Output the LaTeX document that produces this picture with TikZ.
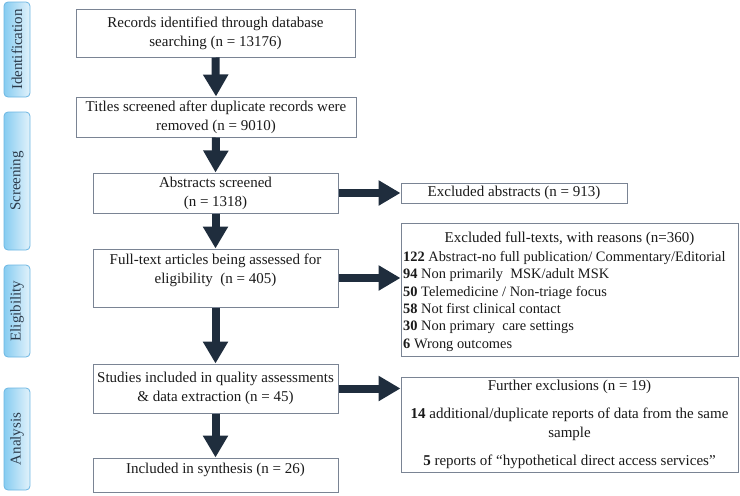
\documentclass[tikz,border=0pt]{standalone}
\usepackage{fontspec}
\setmainfont{Liberation Serif}
\usetikzlibrary{arrows.meta,shadows}
\definecolor{arr}{HTML}{1F2D3D}
\definecolor{bord}{HTML}{7A8494}
\definecolor{sidebord}{HTML}{6CB6E2}
\definecolor{sidelight}{HTML}{E2F2FB}
\definecolor{sidedark}{HTML}{86CCF1}
\definecolor{sidetext}{HTML}{2B3A4A}
\definecolor{txtcol}{HTML}{1A1A1A}
\tikzset{
  box/.style={draw=bord, line width=1pt, fill=white,
    drop shadow={shadow xshift=1.2pt, shadow yshift=-1.2pt, opacity=0.3, fill=black!60},
    inner sep=0pt, align=center, text=txtcol, font=\fontsize{15}{19}\selectfont},
  txt/.style={inner sep=0pt, align=center, text=txtcol, font=\fontsize{15}{19}\selectfont},
  listtxt/.style={inner sep=0pt, align=left, text=txtcol, font=\fontsize{14.4}{17.4}\selectfont},
  side/.style={draw=sidebord, line width=0.8pt, rounded corners=4pt, rotate=90,
    left color=sidedark, right color=sidelight, minimum height=26pt, inner sep=0pt,
    text=sidetext, font=\fontsize{15}{18}\selectfont},
  bigarrow/.style={draw=arr, line width=8pt, line cap=butt,
    -{Triangle[width=24pt,length=22pt]}},
}
\begin{document}
\begin{tikzpicture}[x=1pt,y=-1pt]
\useasboundingbox (0,0) rectangle (740,496);
% side labels
\node[side, minimum width=95pt] (sid) at (17,49.5) {Identification};
\node[side, minimum width=138pt] (ssc) at (17,181) {Screening};
\node[side, minimum width=92pt] (sel) at (17,311) {Eligibility};
\node[side, minimum width=102pt] (san) at (17,439) {Analysis};
% main column
\node[box, minimum width=279pt, minimum height=48pt] (b1) at (215.5,33)
  {Records identified through database\\searching (n = 13176)};
\node[box, minimum width=280pt, minimum height=40pt] (b2) at (216,117)
  {Titles screened after duplicate records were\\removed (n = 9010)};
\node[box, minimum width=245pt, minimum height=40pt] (b3) at (215.5,193)
  {Abstracts screened\\(n = 1318)};
\node[box, minimum width=245pt, minimum height=58pt] (b4) at (215.5,278) {};
\node[txt] (t4) at ([yshift=8pt]b4.center)
  {Full-text articles being assessed for\\eligibility~ (n = 405)};
\node[box, minimum width=245pt, minimum height=49pt] (b5) at (215.5,388.5)
  {Studies included in quality assessments\\\& data extraction (n = 45)};
\node[box, minimum width=245pt, minimum height=34pt] (b6) at (215.5,475) {};
\node[txt] (t6) at ([yshift=5pt]b6.center) {Included in synthesis (n = 26)};
% right column
\node[box, minimum width=226pt, minimum height=20pt] (r1) at (514,193)
  {Excluded abstracts (n = 913)};
\node[box, minimum width=337pt, minimum height=133pt] (r2) at (569.5,289.5) {};
\node[txt] (t2a) at (569.5,239) {Excluded full-texts, with reasons (n=360)};
\node[listtxt, anchor=north west] (t2b) at (403,251)
  {\textbf{122} Abstract-no full publication/ Commentary/Editorial\\
   \textbf{94} Non primarily~ MSK/adult MSK\\
   \textbf{50} Telemedicine / Non-triage focus\\
   \textbf{58} Not first clinical contact\\
   \textbf{30} Non primary~ care settings\\
   \textbf{6} Wrong outcomes};
\node[box, minimum width=337pt, minimum height=95pt] (r3) at (569.5,424.5) {};
\node[txt] (t3a) at (569.5,387) {Further exclusions (n = 19)};
\node[txt] (t3b) at (569.5,424) {\textbf{14} additional/duplicate reports of data from the same\\sample};
\node[txt] (t3c) at (569.5,462) {\textbf{5} reports of “hypothetical direct access services”};
% arrows
\draw[bigarrow] (b1.south) -- (b2.north);
\draw[bigarrow] (b2.south) -- (b3.north);
\draw[bigarrow] (b3.south) -- (b4.north);
\draw[bigarrow] (b4.south) -- (b5.north);
\draw[bigarrow] (b5.south) -- (b6.north);
\draw[bigarrow] (b3.east) -- (r1.west);
\draw[bigarrow] (b4.east) -- (r2.west |- b4.east);
\draw[bigarrow] (b5.east) -- (r3.west |- b5.east);
\end{tikzpicture}
\end{document}
